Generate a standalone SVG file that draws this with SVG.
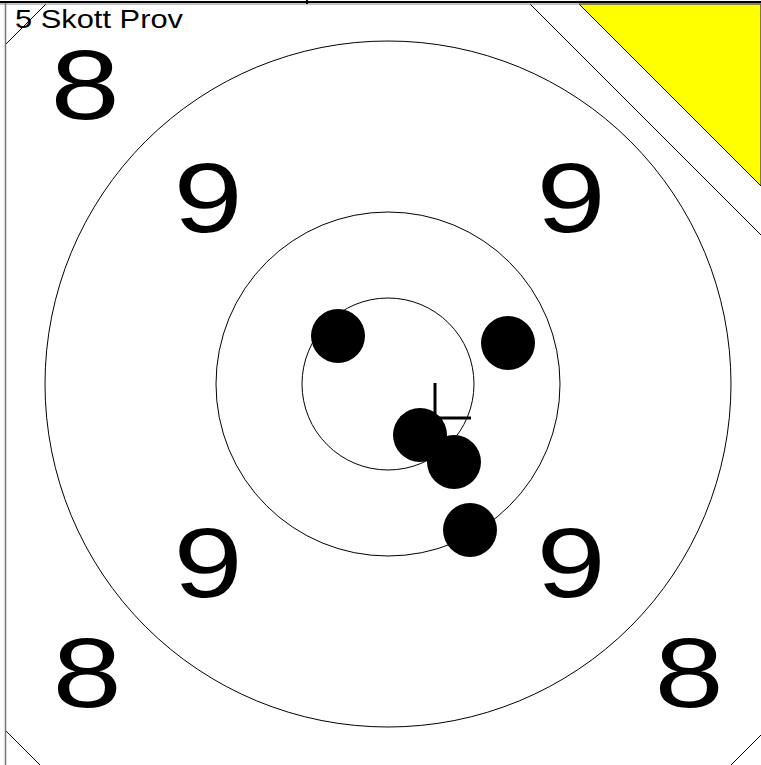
<svg xmlns="http://www.w3.org/2000/svg" width="761" height="765" viewBox="0 0 761 765">
<style>
.ln{stroke:#000;stroke-width:1;fill:none}
.ring{stroke:#000;stroke-width:1;fill:none}
.num{font-family:"Liberation Sans",Arial,sans-serif;font-size:98px;fill:#000}
.shot{fill:#000}
</style>
<rect width="761" height="765" fill="#fff"/>
<g id="target">
<polygon points="579,4 761,4 761,186" fill="#ff0" stroke="#000" stroke-width="1"/>
<line class="ln" x1="530" y1="4" x2="761" y2="235"/>
<line class="ln" x1="46" y1="4" x2="5" y2="45"/>
<line class="ln" x1="5" y1="730" x2="40" y2="765"/>
<line class="ln" x1="761" y1="735" x2="731" y2="765"/>
<circle class="ring" cx="388" cy="384" r="343"/>
<circle class="ring" cx="388" cy="384" r="172"/>
<circle class="ring" cx="388" cy="384" r="86"/>
</g>
<g id="frame">
<line x1="0" y1="2" x2="761" y2="2" stroke="#000" stroke-width="2"/>
<line x1="0" y1="4" x2="761" y2="4" stroke="#888" stroke-width="1"/>
<line x1="5.5" y1="3" x2="5.5" y2="765" stroke="#777" stroke-width="1.5"/>
<line x1="307" y1="0" x2="307" y2="4" stroke="#000" stroke-width="2"/>
</g>
<g id="labels">
<text class="num" text-anchor="middle" transform="translate(85,119) scale(1.27,1)">8</text>
<text class="num" text-anchor="middle" transform="translate(208,232) scale(1.27,1)">9</text>
<text class="num" text-anchor="middle" transform="translate(571,232) scale(1.27,1)">9</text>
<text class="num" text-anchor="middle" transform="translate(208,597) scale(1.27,1)">9</text>
<text class="num" text-anchor="middle" transform="translate(571,597) scale(1.27,1)">9</text>
<text class="num" text-anchor="middle" transform="translate(87,707) scale(1.27,1)">8</text>
<text class="num" text-anchor="middle" transform="translate(689,707) scale(1.27,1)">8</text>
<text font-family="Liberation Sans, Arial, sans-serif" font-size="25" x="15" y="28" textLength="168" lengthAdjust="spacingAndGlyphs">5 Skott Prov</text>
</g>
<g id="aimpoint">
<line x1="400" y1="418" x2="471" y2="418" stroke="#000" stroke-width="3"/>
<line x1="435" y1="383" x2="435" y2="453" stroke="#000" stroke-width="3"/>
</g>
<g id="shots">
<circle class="shot" cx="338" cy="336" r="27"/>
<circle class="shot" cx="508" cy="343" r="27"/>
<circle class="shot" cx="420" cy="435" r="27"/>
<circle class="shot" cx="454" cy="462" r="27"/>
<circle class="shot" cx="470" cy="530" r="27"/>
</g>
</svg>
